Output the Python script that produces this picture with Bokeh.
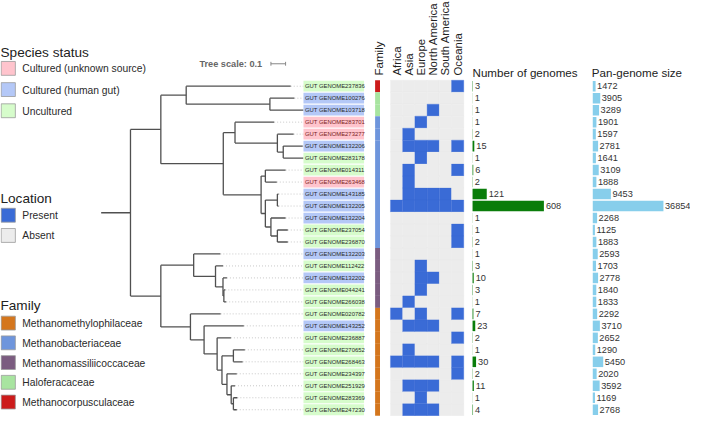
import math
from bokeh.plotting import figure
from bokeh.models import Range1d
from bokeh.core.properties import value
from bokeh.embed import file_html
from bokeh.resources import INLINE

# ---------------- data ----------------
GENOMES = ["GUT GENOME237836", "GUT GENOME100276", "GUT GENOME103718", "GUT GENOME283701",
           "GUT GENOME273277", "GUT GENOME132206", "GUT GENOME283178", "GUT GENOME014311",
           "GUT GENOME263468", "GUT GENOME143185", "GUT GENOME132205", "GUT GENOME132204",
           "GUT GENOME237054", "GUT GENOME236870", "GUT GENOME132203", "GUT GENOME112422",
           "GUT GENOME132202", "GUT GENOME044241", "GUT GENOME266038", "GUT GENOME020782",
           "GUT GENOME143252", "GUT GENOME236887", "GUT GENOME270652", "GUT GENOME268463",
           "GUT GENOME234397", "GUT GENOME251929", "GUT GENOME283369", "GUT GENOME247230"]

STATUS_NAMES = ["Cultured (unknown source)", "Cultured (human gut)", "Uncultured"]
STATUS = [2, 1, 1, 0, 0, 1, 2, 2, 0, 1, 1, 1, 2, 2, 1, 2, 1, 2, 2, 2, 1, 2, 2, 2, 2, 2, 2, 2]

FAMILY_NAMES = ["Methanomethylophilaceae", "Methanobacteriaceae", "Methanomassiliicoccaceae",
                "Haloferacaceae", "Methanocorpusculaceae"]
FAMILY = [4, 3, 3, 1, 1, 1, 1, 1, 1, 1, 1, 1, 1, 1, 2, 2, 2, 2, 2, 0, 0, 0, 0, 0, 0, 0, 0, 0]

REGIONS = ["Africa", "Asia", "Europe", "North America", "South America", "Oceania"]
AFRICA = [0,0,0,0,0,0,0,0,0,0,1,0,0,0,0,0,0,0,0,1,0,0,0,1,0,0,0,0]
ASIA = [0,0,0,0,1,1,0,1,1,1,1,0,0,0,0,0,0,0,1,0,1,0,1,1,0,1,0,1]
EUROPE = [0,0,0,1,0,1,1,0,0,1,1,0,0,0,0,1,1,1,0,1,1,0,0,1,0,1,1,1]
N_AMERICA = [0,0,1,0,0,1,0,0,0,1,1,0,0,0,0,0,1,0,0,0,1,0,0,1,0,1,0,1]
S_AMERICA = [0,0,0,0,0,0,0,0,0,1,1,0,0,0,0,0,0,0,0,0,0,0,0,0,0,0,0,0]
OCEANIA = [1,0,0,0,0,1,0,1,0,0,1,0,1,1,0,0,0,0,0,1,0,1,0,1,1,0,0,0]

N_GENOMES = [3, 1, 1, 1, 2, 15, 1, 6, 2, 121, 608, 1, 1, 2, 1, 3, 10, 3, 1, 7, 23, 2, 1, 30, 2, 11, 1, 4]
PAN_SIZE = [1472, 3905, 3289, 1901, 1597, 2781, 1641, 3109, 1888, 9453, 36854, 2268, 1125, 1883,
            2593, 1703, 2778, 1840, 1833, 2292, 3710, 2652, 1290, 5450, 2020, 3592, 1169, 2768]

TREE_SCALE = 0.1
# tree: (branch length, children list | leaf name)
TREE = (0.2, [
    (0.207, [
        (0.173, [
            (0.713, "GUT GENOME237836"),
            (0.571, [(0.167, "GUT GENOME100276"), (0.229, "GUT GENOME103718")]),
        ]),
        (0.426, [
            (0.080, [
                (0.267, "GUT GENOME283701"),
                (0.289, [
                    (0.111, "GUT GENOME273277"),
                    (0.040, [(0.133, "GUT GENOME132206"), (0.138, "GUT GENOME283178")]),
                ]),
            ]),
            (0.258, [
                (0.029, [(0.138, "GUT GENOME014311"), (0.078, "GUT GENOME263468")]),
                (0.029, [
                    (0.082, [(0.008, "GUT GENOME143185"), (0.008, "GUT GENOME132205")]),
                    (0.038, [
                        (0.100, "GUT GENOME132204"),
                        (0.044, [(0.071, "GUT GENOME237054"), (0.071, "GUT GENOME236870")]),
                    ]),
                ]),
            ]),
        ]),
    ]),
    (0.207, [
        (0.224, [
            (0.182, "GUT GENOME132203"),
            (0.149, [
                (0.051, "GUT GENOME112422"),
                (0.051, [
                    (0.027, "GUT GENOME132202"),
                    (0.006, [(0.010, "GUT GENOME044241"), (0.016, "GUT GENOME266038")]),
                ]),
            ]),
        ]),
        (0.202, [
            (0.206, "GUT GENOME020782"),
            (0.093, [
                (0.271, "GUT GENOME143252"),
                (0.089, [
                    (0.094, "GUT GENOME236887"),
                    (0.033, [
                        (0.078, [(0.078, "GUT GENOME270652"), (0.063, "GUT GENOME268463")]),
                        (0.034, [
                            (0.067, "GUT GENOME234397"),
                            (0.029, [
                                (0.026, "GUT GENOME251929"),
                                (0.015, [(0.027, "GUT GENOME283369"), (0.023, "GUT GENOME247230")]),
                            ]),
                        ]),
                    ]),
                ]),
            ]),
        ]),
    ]),
])

# ---------------- styles / layout ----------------
FONT = value("Liberation Sans")
STATUS_COLORS = ["#ffc4cd", "#b4c8f7", "#d6fccb"]
STATUS_TEXT = ["#7a1c1c", "#2a2a2a", "#2a2a2a"]
FAMILY_COLORS = ["#d4761d", "#6e95dc", "#7b5c80", "#a8e4a0", "#cc1b1b"]
PRESENT, ABSENT = "#3a6bd6", "#ececec"
GREEN, SKY = "#0a7d0a", "#87ceeb"

W, H = 706, 432          # layout units (reference pixels)
PW, PH = 690, 416        # page pixels
FS = 0.97

def fs(px):
    return "%.1fpx" % (px * FS)

ROW0, ROWSTEP = 89.0, 12.444
TREE_X0, TREE_PX = 103.0, 150.0
LABEL_L, LABEL_R = 310.0, 372.0
HEAT_X0, HEAT_W = 399.0, 12.5
NG_X0, NG_PX = 483.0, 73.0 / 608.0
PAN_X0, PAN_PX = 606.0, 72.3 / 36854.0

p = figure(width=PW, height=PH, output_backend="svg", toolbar_location=None,
           x_range=Range1d(0, W), y_range=Range1d(H, 0),
           x_axis_location=None, y_axis_location=None, min_border=0)
p.outline_line_color = None
p.grid.visible = False
p.background_fill_color = "white"
p.border_fill_color = "white"

p.extra_y_ranges = {"rows": Range1d((H - ROW0) / ROWSTEP, (0 - ROW0) / ROWSTEP)}
p.extra_x_ranges = {
    "tree": Range1d(-TREE_X0 / TREE_PX, (W - TREE_X0) / TREE_PX),
    "heat": Range1d(-HEAT_X0 / HEAT_W, (W - HEAT_X0) / HEAT_W),
    "ngen": Range1d(-NG_X0 / NG_PX, (W - NG_X0) / NG_PX),
    "pan": Range1d(-PAN_X0 / PAN_PX, (W - PAN_X0) / PAN_PX),
}

rows = list(range(len(GENOMES)))

# ---------------- tree ----------------
hx0, hx1, hy = [], [], []
vx, vy0, vy1 = [], [], []
leaf_x, leaf_y = [], []

def walk(node, parent_depth):
    bl, content = node
    depth = parent_depth + bl
    if isinstance(content, str):
        y = GENOMES.index(content)
        leaf_x.append(depth)
        leaf_y.append(y)
    else:
        ys = [walk(ch, depth) for ch in content]
        y = (min(ys) + max(ys)) / 2.0
        vx.append(depth); vy0.append(min(ys)); vy1.append(max(ys))
    hx0.append(parent_depth); hx1.append(depth); hy.append(y)
    return y

walk(TREE, 0.0)
label_tree_x = (LABEL_L - TREE_X0) / TREE_PX
p.segment(x0=leaf_x, y0=leaf_y, x1=[label_tree_x] * len(leaf_x), y1=leaf_y,
          line_color="#c8c8c8", line_dash="1 2", line_width=1,
          x_range_name="tree", y_range_name="rows")
p.segment(x0=hx0, y0=hy, x1=hx1, y1=hy, line_color="#505050", line_width=1.3,
          x_range_name="tree", y_range_name="rows")
p.segment(x0=vx, y0=vy0, x1=vx, y1=vy1, line_color="#505050", line_width=1.3,
          x_range_name="tree", y_range_name="rows")

# tree scale
sb_x = (276.7 - TREE_X0) / TREE_PX
sb_y = 65.7
p.segment(x0=[sb_x, sb_x, sb_x + TREE_SCALE], y0=[sb_y, sb_y - 2, sb_y - 2],
          x1=[sb_x + TREE_SCALE, sb_x, sb_x + TREE_SCALE], y1=[sb_y, sb_y + 2, sb_y + 2],
          line_color="#888888", line_width=1, x_range_name="tree")
p.text(x=[203.5], y=[66], text=["Tree scale: %g" % TREE_SCALE], text_font=FONT,
       text_font_size=fs(9.5), text_font_style="bold", text_color="#666666",
       text_baseline="middle", text_align="left")

# ---------------- genome labels ----------------
p.rect(x=[(LABEL_L + LABEL_R) / 2] * len(rows), y=rows, width=LABEL_R - LABEL_L, height=0.9,
       fill_color=[STATUS_COLORS[s] for s in STATUS], line_color=None, y_range_name="rows")
p.text(x=[LABEL_L + 1.5] * len(rows), y=rows, text=GENOMES, text_font=FONT,
       text_font_size=fs(6.1), text_color=[STATUS_TEXT[s] for s in STATUS],
       text_baseline="middle", text_align="left", y_range_name="rows")

# ---------------- family strip ----------------
p.rect(x=[385.8] * len(rows), y=rows, width=5, height=1.0,
       fill_color=[FAMILY_COLORS[f] for f in FAMILY], line_color=None, y_range_name="rows")
p.text(x=[386.5], y=[78], text=["Family"], angle=math.pi / 2, text_font=FONT,
       text_font_size=fs(12), text_color="#222222", text_baseline="middle", text_align="left")

# ---------------- heatmap ----------------
hm_x, hm_y, hm_c = [], [], []
for ci, col in enumerate([AFRICA, ASIA, EUROPE, N_AMERICA, S_AMERICA, OCEANIA]):
    for r, v in enumerate(col):
        hm_x.append(ci + 0.5); hm_y.append(r); hm_c.append(PRESENT if v else ABSENT)
p.rect(x=hm_x, y=hm_y, width=1.0, height=1.0, fill_color=hm_c, line_color=hm_c,
       line_width=0.3, x_range_name="heat", y_range_name="rows")
p.text(x=[i + 0.5 for i in range(len(REGIONS))], y=[78] * len(REGIONS), text=REGIONS,
       angle=math.pi / 2, text_font=FONT, text_font_size=fs(11.8), text_color="#222222",
       text_baseline="middle", text_align="left", x_range_name="heat")

# ---------------- number of genomes ----------------
p.hbar(y=rows, left=0, right=N_GENOMES, height=0.88, fill_color=GREEN, line_color=None,
       x_range_name="ngen", y_range_name="rows")
p.text(x=N_GENOMES, y=rows, text=[str(v) for v in N_GENOMES], x_offset=2,
       text_font=FONT, text_font_size=fs(9.5), text_color="#333333",
       text_baseline="middle", text_align="left", x_range_name="ngen", y_range_name="rows")
p.text(x=[NG_X0], y=[74.5], text=["Number of genomes"], text_font=FONT,
       text_font_size=fs(12), text_color="#222222", text_baseline="alphabetic", text_align="left")

# ---------------- pan-genome size ----------------
p.hbar(y=rows, left=0, right=PAN_SIZE, height=0.88, fill_color=SKY, line_color=None,
       x_range_name="pan", y_range_name="rows")
p.text(x=PAN_SIZE, y=rows, text=[str(v) for v in PAN_SIZE], x_offset=1.5,
       text_font=FONT, text_font_size=fs(9.5), text_color="#333333",
       text_baseline="middle", text_align="left", x_range_name="pan", y_range_name="rows")
p.text(x=[PAN_X0 - 1], y=[74.5], text=["Pan-genome size"], text_font=FONT,
       text_font_size=fs(12), text_color="#222222", text_baseline="alphabetic", text_align="left")

# ---------------- legends ----------------
def legend(title, title_y, items, colors, first_cy, step):
    p.text(x=[0], y=[title_y], text=[title], text_font=FONT, text_font_size=fs(14),
           text_color="#222222", text_baseline="alphabetic", text_align="left")
    cys = [first_cy + i * step for i in range(len(items))]
    p.quad(left=[0.7] * len(items), right=[15.2] * len(items),
           top=[c - 7.2 for c in cys], bottom=[c + 7.2 for c in cys],
           fill_color=colors, line_color="#9a9a9a", line_width=0.8)
    p.text(x=[22.3] * len(items), y=[c + 0.5 for c in cys], text=items, text_font=FONT,
           text_font_size=fs(10.6), text_color="#2a2a2a", text_baseline="middle",
           text_align="left")

legend("Species status", 53.5, STATUS_NAMES, STATUS_COLORS, 70.5, 22.0)
legend("Location", 205.5, ["Present", "Absent"], [PRESENT, ABSENT], 223.0, 21.0)
legend("Family", 316.5, FAMILY_NAMES, FAMILY_COLORS, 335.0, 20.5)

open("out.html", "w").write(file_html(p, INLINE))
